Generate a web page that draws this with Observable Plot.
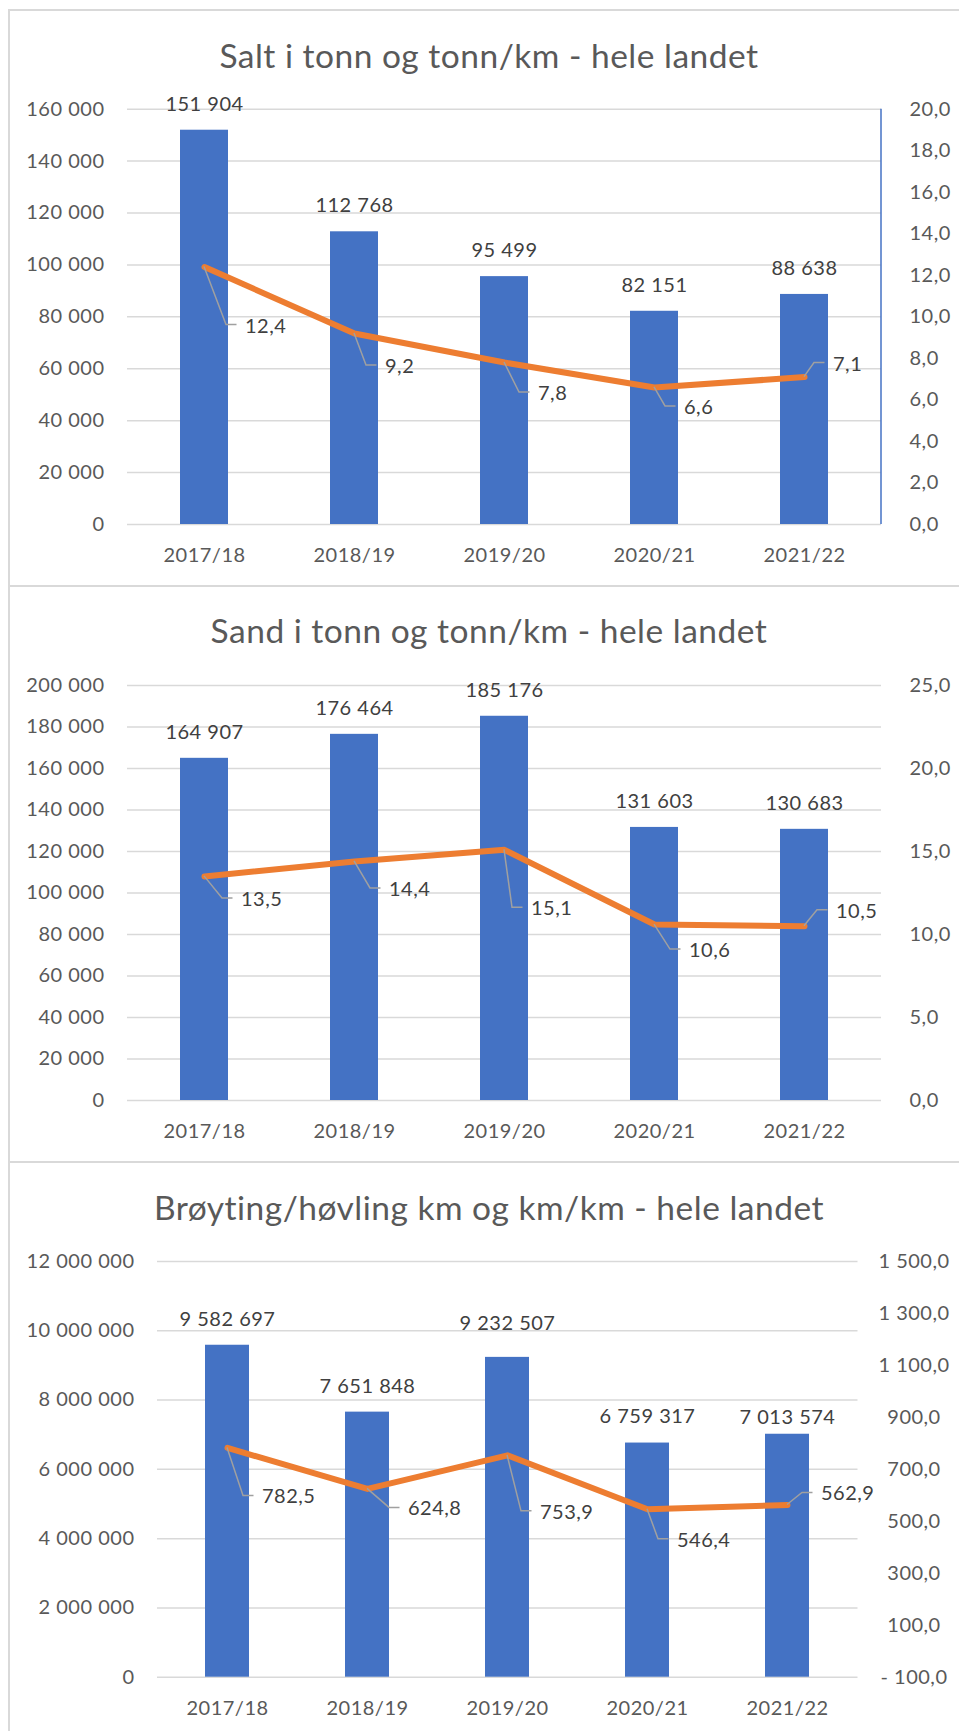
<!DOCTYPE html>
<html>
<head>
<meta charset="utf-8">
<script src="https://cdn.jsdelivr.net/npm/d3@7"></script>
<script src="https://cdn.jsdelivr.net/npm/@observablehq/plot@0.6"></script>
<style>
  html, body { margin: 0; padding: 0; background: #ffffff; }
  body { width: 959px; height: 1731px; overflow: hidden; position: relative; font-family: Lato, sans-serif; }
  .hline { position: absolute; left: 8px; width: 960px; height: 2px; background: #d9d9d9; }
  .vline { position: absolute; left: 8px; top: 9px; width: 2px; height: 1730px; background: #d9d9d9; }
  .title { position: absolute; left: 0; width: 978px; height: 40px; line-height: 40px; text-align: center;
           color: #595959; font-size: 33.5px; letter-spacing: 0.5px; white-space: nowrap; }
  .chart { position: absolute; left: 0; width: 959px; }
  .chart svg { overflow: visible; }
</style>
</head>
<body>
<div class="vline"></div>
<div class="hline" style="top:9px"></div>
<div class="hline" style="top:585px"></div>
<div class="hline" style="top:1161px"></div>
<div class="title" style="top:35px">Salt i tonn og tonn/km - hele landet</div>
<div class="title" style="top:610px">Sand i tonn og tonn/km - hele landet</div>
<div class="title" style="top:1187px">Brøyting/høvling km og km/km - hele landet</div>
<div class="chart" id="c1" style="top:10px"></div>
<div class="chart" id="c2" style="top:586px"></div>
<div class="chart" id="c3" style="top:1162px"></div>
<script>
// ---- data ----
const seasons = ["2017/18", "2018/19", "2019/20", "2020/21", "2021/22"];

const saltTonn = [151904, 112768, 95499, 82151, 88638];
const saltTonnPerKm = [12.4, 9.2, 7.8, 6.6, 7.1];
const saltLeftTicks = [0, 20000, 40000, 60000, 80000, 100000, 120000, 140000, 160000];
const saltRightTicks = [0, 2, 4, 6, 8, 10, 12, 14, 16, 18, 20];

const sandTonn = [164907, 176464, 185176, 131603, 130683];
const sandTonnPerKm = [13.5, 14.4, 15.1, 10.6, 10.5];
const sandLeftTicks = [0, 20000, 40000, 60000, 80000, 100000, 120000, 140000, 160000, 180000, 200000];
const sandRightTicks = [0, 5, 10, 15, 20, 25];

const broytingKm = [9582697, 7651848, 9232507, 6759317, 7013574];
const broytingKmPerKm = [782.5, 624.8, 753.9, 546.4, 562.9];
const broytingLeftTicks = [0, 2000000, 4000000, 6000000, 8000000, 10000000, 12000000];
const broytingRightTicks = [-100, 100, 300, 500, 700, 900, 1100, 1300, 1500];

// ---- label placement (pixel offsets, styling only) ----
const saltLeader = [[22, 58], [12, 32], [15, 30], [11, 19], [10, -14]];
const sandLeader = [[18, 22], [16, 27], [8, 58], [16, 25], [13, -16]];
const broytingLeader = [[16, 48], [22, 19], [14, 56], [11, 30], [15, -12]];
const saltBarDy = [-26, -26, -26, -26, -26];
const sandBarDy = [-26, -26, -26, -26, -26];
const broytingBarDy = [-26, -26, -34, -26, -17];

// ---- formatting ----
const nb = d3.formatLocale({decimal: ",", thousands: " ", grouping: [3], currency: ["", ""], minus: "- "});
const fmtInt = nb.format(",d");
const fmtDec = nb.format(",.1f");

const BLUE = "#4472c4", ORANGE = "#ed7d31", GRID = "#d9d9d9", LABEL = "#404040", AXIS = "#595959";

function makeChart(cfg) {
  const L = cfg.leftTicks[cfg.leftTicks.length - 1];
  const r0 = cfg.rightTicks[0], r1 = cfg.rightTicks[cfg.rightTicks.length - 1];
  const toLeft = v => (v - r0) / (r1 - r0) * L;
  const fromLeft = y => r0 + y / L * (r1 - r0);
  const rows = seasons.map((s, i) => ({season: s, bar: cfg.bars[i], rate: cfg.rates[i], rateY: toLeft(cfg.rates[i])}));

  const leaders = (index, scales, values, dims) => {
    const sx = scales.x, sy = scales.y;
    const bw = typeof sx.bandwidth === "function" ? sx.bandwidth() : 0;
    const g = d3.create("svg:g");
    rows.forEach((r, i) => {
      const px = sx(r.season) + bw / 2, py = sy(r.rateY);
      const bx = px + cfg.leader[i][0], by = py + cfg.leader[i][1];
      g.append("path")
        .attr("d", `M${px},${py}L${bx},${by}H${bx + 10.5}`)
        .attr("fill", "none").attr("stroke", "#a0a0a0").attr("stroke-width", 1.5);
      g.append("text")
        .attr("x", bx + 19).attr("y", by + 1).attr("dy", "0.35em")
        .attr("fill", LABEL).attr("text-anchor", "start")
        .text(fmtDec(r.rate));
    });
    return g.node();
  };

  const marks = [
    Plot.gridY(cfg.leftTicks, {stroke: GRID, strokeOpacity: 1, strokeWidth: 1.5}),
    Plot.axisY(cfg.leftTicks, {anchor: "left", tickSize: 0, tickPadding: 23, tickFormat: fmtInt, label: null}),
    Plot.axisY(cfg.rightTicks.map(toLeft), {anchor: "right", tickSize: 0, tickPadding: cfg.rightPad,
      textAnchor: cfg.rightAnchor, tickFormat: d => fmtDec(fromLeft(d)), label: null}),
    Plot.axisX({tickSize: 0, tickPadding: 23.5, label: null}),
    Plot.barY(rows, {x: "season", y: "bar", fill: BLUE}),
    ...rows.map((r, i) => Plot.text([r], {x: "season", y: "bar", text: d => fmtInt(d.bar), dy: cfg.barDy[i], fill: LABEL})),
    Plot.lineY(rows, {x: "season", y: "rateY", stroke: ORANGE, strokeWidth: 6, strokeLinejoin: "round", strokeLinecap: "round"}),
    leaders
  ];
  if (cfg.blueAxis) {
    marks.push((index, scales, values, dims) => {
      const x = dims.width - dims.marginRight;
      const g = d3.create("svg:line")
        .attr("x1", x).attr("x2", x)
        .attr("y1", dims.marginTop).attr("y2", dims.height - dims.marginBottom)
        .attr("stroke", BLUE).attr("stroke-width", 1.5);
      return g.node();
    });
  }

  return Plot.plot({
    width: 959,
    height: 576,
    marginTop: cfg.mt,
    marginBottom: cfg.mb,
    marginLeft: cfg.ml,
    marginRight: cfg.mr,
    x: {type: "band", domain: seasons, paddingInner: cfg.pad, paddingOuter: cfg.pad / 2, label: null},
    y: {domain: [0, L], label: null},
    style: {fontFamily: "Lato, sans-serif", fontSize: "20px", letterSpacing: "0.5px", color: AXIS, background: "none", overflow: "visible"},
    marks
  });
}

document.getElementById("c1").append(makeChart({
  bars: saltTonn, rates: saltTonnPerKm, leftTicks: saltLeftTicks, rightTicks: saltRightTicks,
  leader: saltLeader, barDy: saltBarDy, mt: 98.7, mb: 62, ml: 127, mr: 78, pad: 0.68,
  rightPad: 28, rightAnchor: "start", blueAxis: true
}));
document.getElementById("c2").append(makeChart({
  bars: sandTonn, rates: sandTonnPerKm, leftTicks: sandLeftTicks, rightTicks: sandRightTicks,
  leader: sandLeader, barDy: sandBarDy, mt: 99, mb: 62, ml: 127, mr: 78, pad: 0.68,
  rightPad: 28, rightAnchor: "start", blueAxis: false
}));
document.getElementById("c3").append(makeChart({
  bars: broytingKm, rates: broytingKmPerKm, leftTicks: broytingLeftTicks, rightTicks: broytingRightTicks,
  leader: broytingLeader, barDy: broytingBarDy, mt: 99, mb: 61.3, ml: 157, mr: 101.5, pad: 0.686,
  rightPad: 56, rightAnchor: "middle", blueAxis: false
}));
</script>
</body>
</html>
